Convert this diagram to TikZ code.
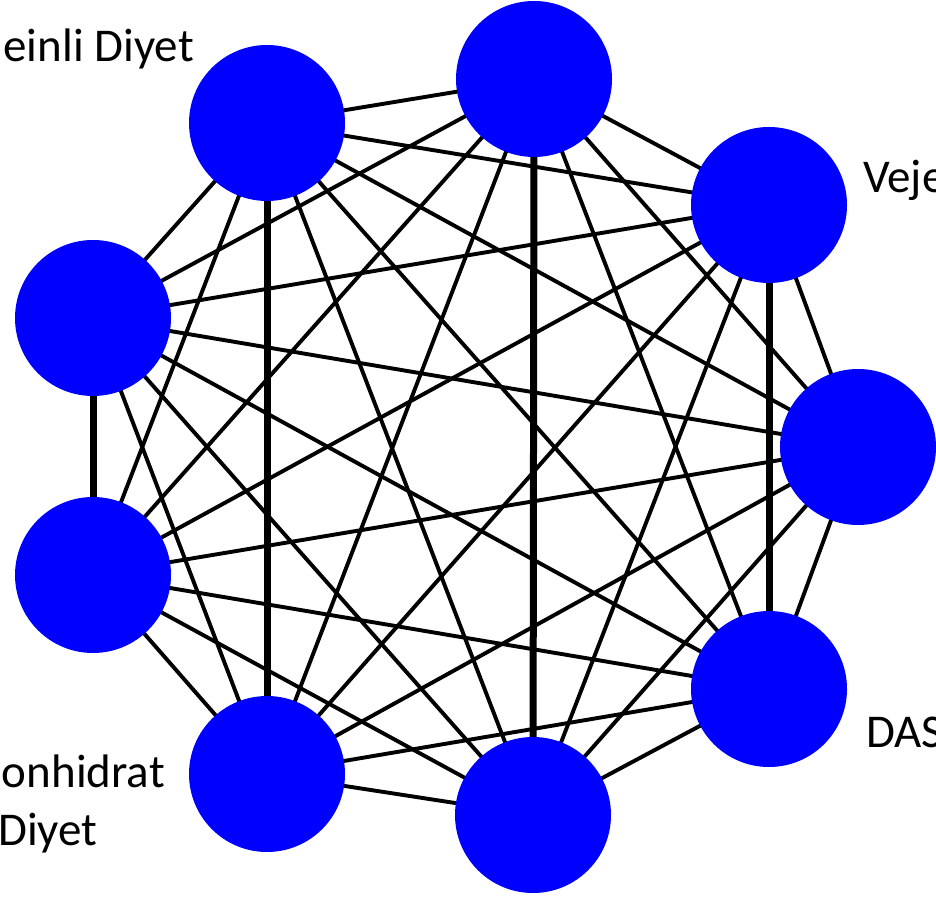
\documentclass[tikz,border=0pt]{standalone}
\usepackage{fontspec}
\setmainfont{Carlito}
\begin{document}
\begin{tikzpicture}[x=1pt,y=1pt,
  dot/.style={circle,fill={rgb,255:red,0;green,0;blue,255},minimum size=156pt,inner sep=0pt},
  thin edge/.style={line width=3.9pt},
  thick edge/.style={line width=7pt},
  lbl/.style={font=\fontsize{47}{56}\selectfont,inner sep=0pt}]
\useasboundingbox (0,0) rectangle (936,900);
\coordinate (p1) at (267,777);
\coordinate (p2) at (534,821);
\coordinate (p3) at (769,695);
\coordinate (p4) at (858,453);
\coordinate (p5) at (769,211);
\coordinate (p6) at (533,85);
\coordinate (p7) at (267,126);
\coordinate (p8) at (93,325);
\coordinate (p9) at (93,582);
% edges
\foreach \a/\b in {1/2,1/3,1/4,1/5,1/6,1/8,1/9,
                   2/3,2/4,2/5,2/7,2/8,2/9,
                   3/4,3/6,3/7,3/8,3/9,
                   4/5,4/6,4/7,4/8,4/9,
                   5/6,5/7,5/8,5/9,
                   6/7,6/8,6/9,
                   7/8,7/9}
  \draw[thin edge] (p\a) -- (p\b);
\foreach \a/\b in {1/7,2/6,3/5,9/8}
  \draw[thick edge] (p\a) -- (p\b);
% nodes
\foreach \i in {1,...,9}
  \node[dot] (n\i) at (p\i) {};
% labels
\node[lbl,anchor=base east] (t1) at (194,838) {einli Diyet};
\node[lbl,anchor=base west] (t3) at (863,707) {Veje};
\node[lbl,anchor=base west] (t5) at (866,153) {DAS};
\node[lbl,anchor=base east] (t7a) at (165,113) {onhidrat};
\node[lbl,anchor=base west] (t7b) at (-2,55) {Diyet};
\end{tikzpicture}
\end{document}
